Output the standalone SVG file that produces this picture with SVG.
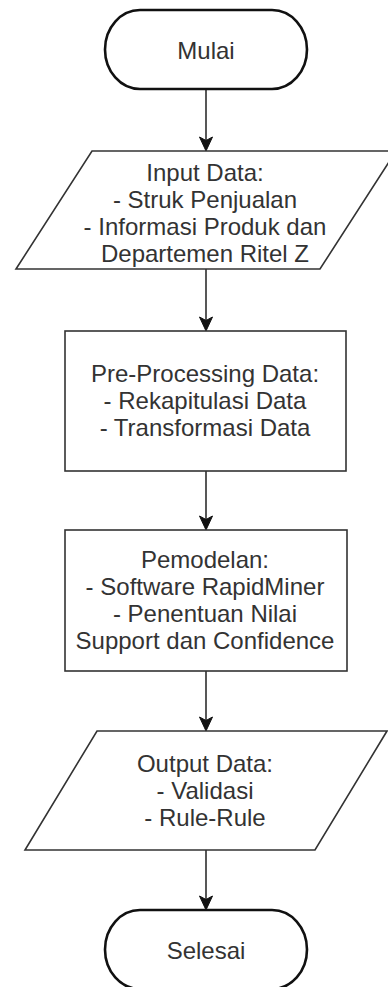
<svg xmlns="http://www.w3.org/2000/svg" width="388" height="987" viewBox="0 0 388 987">
<style>
.term{fill:#fff;stroke:#111;stroke-width:2.6}
.box{fill:#fff;stroke:#333;stroke-width:1.6}
.t{font-family:"Liberation Sans",Arial,sans-serif;font-size:24px;fill:#333;text-anchor:middle}
.conn{stroke:#111;stroke-width:1.4;fill:none}
.head{fill:#111;stroke:#111;stroke-width:1}
</style>
<defs>
<path id="ah" class="head" d="M0,0 L-6.5,-14 L0,-10.5 L6.5,-14 Z"/>
</defs>
<rect width="388" height="987" fill="#fff"/>
<g id="connectors">
<line class="conn" x1="206" y1="89" x2="206" y2="141"/>
<use href="#ah" x="206" y="151"/>
<line class="conn" x1="206" y1="269" x2="206" y2="321"/>
<use href="#ah" x="206" y="331"/>
<line class="conn" x1="206" y1="471" x2="206" y2="520"/>
<use href="#ah" x="206" y="530"/>
<line class="conn" x1="206" y1="671" x2="206" y2="721"/>
<use href="#ah" x="206" y="731"/>
<line class="conn" x1="206" y1="850" x2="206" y2="900"/>
<use href="#ah" x="206" y="910"/>
</g>
<g id="mulai">
<path class="term" d="M140,10 H272 A35,39.5 0 0 1 272,89 H140 A35,39.5 0 0 1 140,10 Z"/>
<text class="t" x="206" y="59">Mulai</text>
</g>
<g id="input">
<polygon class="box" points="92,151 396,151 320,269 16,269"/>
<text class="t" x="205" y="181">Input Data:</text>
<text class="t" x="205" y="208">- Struk Penjualan</text>
<text class="t" x="205" y="235">- Informasi Produk dan</text>
<text class="t" x="205" y="262">Departemen Ritel Z</text>
</g>
<g id="preprocessing">
<rect class="box" x="65" y="331" width="281" height="140"/>
<text class="t" x="205" y="382">Pre-Processing Data:</text>
<text class="t" x="205" y="409">- Rekapitulasi Data</text>
<text class="t" x="205" y="436">- Transformasi Data</text>
</g>
<g id="pemodelan">
<rect class="box" x="65" y="530" width="282" height="141"/>
<text class="t" x="205" y="568">Pemodelan:</text>
<text class="t" x="205" y="595">- Software RapidMiner</text>
<text class="t" x="205" y="622">- Penentuan Nilai</text>
<text class="t" x="205" y="649">Support dan Confidence</text>
</g>
<g id="output">
<polygon class="box" points="97,731 387,731 315,850 25,850"/>
<text class="t" x="205" y="772">Output Data:</text>
<text class="t" x="205" y="799">- Validasi</text>
<text class="t" x="205" y="826">- Rule-Rule</text>
</g>
<g id="selesai">
<path class="term" d="M140,910 H272 A35,39.5 0 0 1 272,989 H140 A35,39.5 0 0 1 140,910 Z"/>
<text class="t" x="206" y="959">Selesai</text>
</g>
</svg>
